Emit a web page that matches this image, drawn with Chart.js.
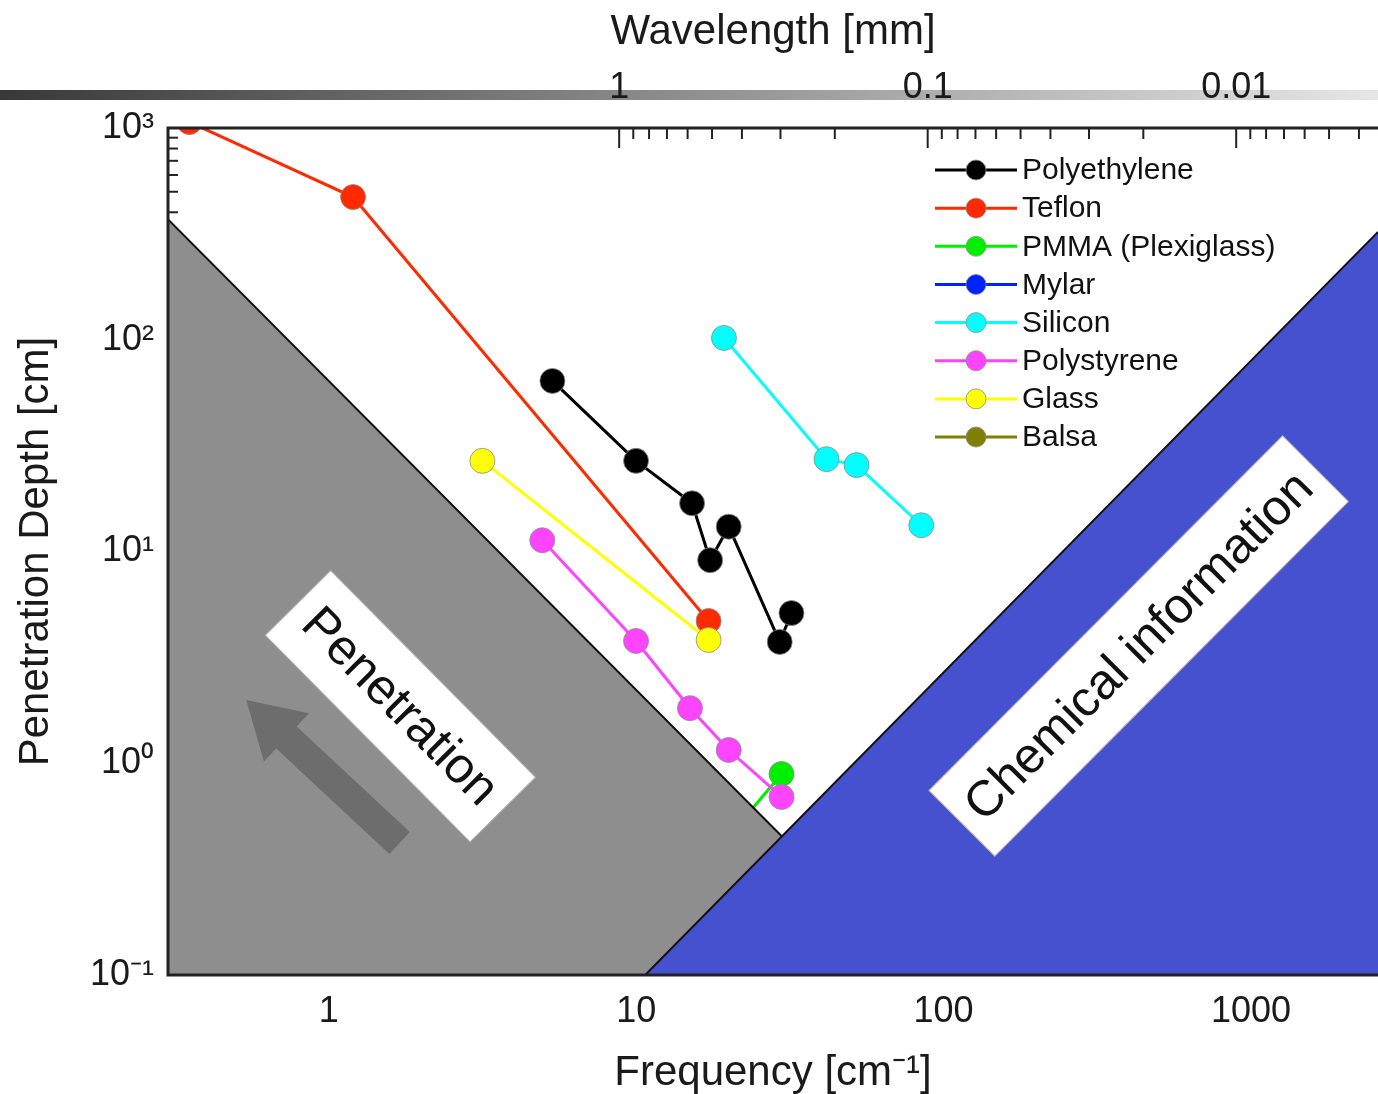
<!DOCTYPE html>
<html>
<head>
<meta charset="utf-8">
<script src="https://cdn.jsdelivr.net/npm/chart.js@4.4.1/dist/chart.umd.min.js"></script>
<style>
  html, body { margin: 0; padding: 0; background: #fff; }
  canvas { display: block; }
</style>
</head>
<body>
<canvas id="depth" width="1378" height="1094"></canvas>
<script>
// values: frequency [cm^-1] vs penetration depth [cm]
const polyethyleneFreq = [5.34, 9.99, 15.2, 17.4, 20.0, 29.3, 32.0];
const polyethyleneDepth = [63.9, 26.8, 16.9, 9.1, 13.1, 3.74, 5.12];
const teflonFreq = [0.352, 1.2, 17.2];
const teflonDepth = [1067, 472, 4.7];
const pmmaFreq = [20.5, 29.7];
const pmmaDepth = [0.47, 0.89];
const mylarFreq = [];
const mylarDepth = [];
const siliconFreq = [19.3, 41.6, 52.1, 84.6];
const siliconDepth = [102, 27.3, 25.6, 13.3];
const polystyreneFreq = [4.95, 9.99, 14.96, 20.0, 29.7];
const polystyreneDepth = [11.3, 3.78, 1.82, 1.155, 0.693];
const glassFreq = [3.16, 17.2];
const glassDepth = [26.8, 3.82];
const balsaFreq = [];
const balsaDepth = [];

// edges of the two shaded regions
const grayEdgeFreq = [0.29, 29.7];
const grayEdgeDepth = [389, 0.453];
const blueEdgeFreq = [10.7, 2588];
const blueEdgeDepth = [0.1, 323];

const seriesNames = ['Polyethylene', 'Teflon', 'PMMA (Plexiglass)', 'Mylar', 'Silicon', 'Polystyrene', 'Glass', 'Balsa'];
const seriesColors = ['#000000', '#ff2a00', '#00ee00', '#0022ff', '#00ffff', '#ff44ff', '#ffff00', '#808000'];
const seriesFreq = [polyethyleneFreq, teflonFreq, pmmaFreq, mylarFreq, siliconFreq, polystyreneFreq, glassFreq, balsaFreq];
const seriesDepth = [polyethyleneDepth, teflonDepth, pmmaDepth, mylarDepth, siliconDepth, polystyreneDepth, glassDepth, balsaDepth];

// axes
const freqMin = 0.308, freqMax = 2588;
const freqTicks = [1, 10, 100, 1000];
const freqTickLabels = ['1', '10', '100', '1000'];
const depthTicks = [0.1, 1, 10, 100, 1000];
const depthTickLabels = ['10\u207B\u00B9', '10\u2070', '10\u00B9', '10\u00B2', '10\u00B3'];
const waveMin = 0.00347, waveMax = 29.0;
const waveTicks = [1, 0.1, 0.01];
const waveTickLabels = ['1', '0.1', '0.01'];

const FONT = "'Liberation Sans', Arial, sans-serif";

function pts(xs, ys) {
    return xs.map((x, i) => ({ x: x, y: ys[i] }));
}

const datasets = seriesNames.map((name, i) => ({
    label: name,
    data: pts(seriesFreq[i], seriesDepth[i]),
    borderColor: seriesColors[i],
    backgroundColor: seriesColors[i],
    pointBackgroundColor: seriesColors[i],
    pointBorderColor: 'rgba(140,140,140,0.8)',
    pointBorderWidth: 1,
    pointRadius: 12.5,
    borderWidth: 3,
    fill: false,
    clip: 0,
    order: 20 - i
}));

datasets.push({
    label: 'penetration region',
    data: pts(grayEdgeFreq, grayEdgeDepth),
    borderColor: '#111',
    borderWidth: 2,
    backgroundColor: '#8e8e8e',
    fill: 'start',
    pointRadius: 0,
    clip: 0,
    order: 2
});
datasets.push({
    label: 'chemical region',
    data: pts(blueEdgeFreq, blueEdgeDepth),
    borderColor: '#111',
    borderWidth: 2,
    backgroundColor: '#4651d0',
    fill: 'start',
    pointRadius: 0,
    clip: 0,
    order: 1
});

function rotatedLabel(ctx, cx, cy, w, h, angle, text) {
    ctx.save();
    ctx.translate(cx, cy);
    ctx.rotate(angle);
    ctx.fillStyle = '#fff';
    ctx.fillRect(-w / 2, -h / 2, w, h);
    ctx.strokeStyle = '#b0b0b0';
    ctx.lineWidth = 1;
    ctx.strokeRect(-w / 2, -h / 2, w, h);
    ctx.fillStyle = '#111';
    ctx.font = '50px ' + FONT;
    ctx.textAlign = 'center';
    ctx.textBaseline = 'middle';
    ctx.fillText(text, 0, 2);
    ctx.restore();
}

const decorations = {
    id: 'decorations',
    beforeDraw(chart) {
        // grey band behind the wavelength labels
        const ctx = chart.ctx;
        const g = ctx.createLinearGradient(0, 0, chart.width, 0);
        g.addColorStop(0, '#383838');
        g.addColorStop(1, '#e6e6e6');
        ctx.save();
        ctx.fillStyle = g;
        ctx.fillRect(0, 90, chart.width, 10);
        ctx.restore();
    },
    beforeDatasetsDraw(chart) {
        // inner tick marks on left and top axes
        const { ctx, chartArea: a, scales } = chart;
        ctx.save();
        ctx.strokeStyle = '#222';
        ctx.lineWidth = 2;
        for (let e = -1; e < 3; e++) {
            for (let k = 1; k < 10; k++) {
                const y = scales.y.getPixelForValue(k * Math.pow(10, e));
                ctx.beginPath();
                ctx.moveTo(a.left, y);
                ctx.lineTo(a.left + (k === 1 ? 18 : 10), y);
                ctx.stroke();
            }
        }
        for (let e = -3; e < 1; e++) {
            for (let k = 1; k < 10; k++) {
                const v = k * Math.pow(10, e);
                if (v < waveMin || v > 1.0001) continue;
                const x = scales.x2.getPixelForValue(v);
                ctx.beginPath();
                ctx.moveTo(x, a.top);
                ctx.lineTo(x, a.top + (k === 1 ? 20 : 11));
                ctx.stroke();
            }
        }
        ctx.restore();
    },
    afterDatasetsDraw(chart) {
        const { ctx, chartArea: a, scales } = chart;
        const px = v => scales.x.getPixelForValue(v);
        const py = v => scales.y.getPixelForValue(v);

        // arrow in the penetration region
        const tx = px(1.70), ty = py(0.42), hx = px(0.539), hy = py(1.99);
        const len = Math.hypot(hx - tx, hy - ty);
        const ux = (hx - tx) / len, uy = (hy - ty) / len;
        const nx = -uy, ny = ux;
        const sw = 15, hw = 33, hl = 55;
        const bx = hx - ux * hl, by = hy - uy * hl;
        ctx.save();
        ctx.fillStyle = '#6d6d6d';
        ctx.beginPath();
        ctx.moveTo(tx + nx * sw, ty + ny * sw);
        ctx.lineTo(bx + nx * sw, by + ny * sw);
        ctx.lineTo(bx + nx * hw, by + ny * hw);
        ctx.lineTo(hx, hy);
        ctx.lineTo(bx - nx * hw, by - ny * hw);
        ctx.lineTo(bx - nx * sw, by - ny * sw);
        ctx.lineTo(tx - nx * sw, ty - ny * sw);
        ctx.closePath();
        ctx.fill();
        ctx.restore();

        rotatedLabel(ctx, px(1.71), py(1.86), 291, 92, 0.79, 'Penetration');
        rotatedLabel(ctx, px(431), py(3.58), 501, 93, -0.787, 'Chemical information');

        // frame
        ctx.save();
        ctx.strokeStyle = '#222';
        ctx.lineWidth = 3;
        ctx.beginPath();
        ctx.moveTo(a.right + 2, a.top);
        ctx.lineTo(a.left, a.top);
        ctx.lineTo(a.left, a.bottom);
        ctx.lineTo(a.right + 2, a.bottom);
        ctx.stroke();
        ctx.restore();

        // legend
        const lx = a.left + 767, ly0 = a.top + 42, dy = 38.15;
        ctx.save();
        ctx.font = '30px ' + FONT;
        ctx.textBaseline = 'middle';
        ctx.textAlign = 'left';
        seriesNames.forEach((name, i) => {
            const y = ly0 + i * dy;
            ctx.strokeStyle = seriesColors[i];
            ctx.lineWidth = 3;
            ctx.beginPath();
            ctx.moveTo(lx, y);
            ctx.lineTo(lx + 82, y);
            ctx.stroke();
            ctx.fillStyle = seriesColors[i];
            ctx.beginPath();
            ctx.arc(lx + 41, y, 10, 0, Math.PI * 2);
            ctx.fill();
            ctx.strokeStyle = 'rgba(140,140,140,0.8)';
            ctx.lineWidth = 1;
            ctx.stroke();
            ctx.fillStyle = '#111';
            ctx.fillText(name, lx + 87, y + 1);
        });
        ctx.restore();
    }
};

const tickFont = { family: FONT, size: 36 };
const titleFont = { family: FONT, size: 42, lineHeight: 1 };

new Chart(document.getElementById('depth').getContext('2d'), {
    type: 'line',
    data: { datasets: datasets },
    options: {
        responsive: false,
        animation: false,
        devicePixelRatio: 1,
        events: [],
        layout: { padding: 0, autoPadding: false },
        plugins: {
            legend: { display: false },
            tooltip: { enabled: false },
            filler: { drawTime: 'beforeDatasetDraw' }
        },
        scales: {
            x: {
                type: 'logarithmic',
                position: 'bottom',
                min: freqMin,
                max: freqMax,
                afterBuildTicks: s => { s.ticks = freqTicks.map(v => ({ value: v })); },
                afterFit: s => { s.height = 119; s.paddingLeft = 0; s.paddingRight = 0; },
                grid: { display: false, drawTicks: false },
                border: { display: false },
                ticks: {
                    font: tickFont, color: '#1a1a1a', padding: 15, maxRotation: 0, autoSkip: false,
                    callback: v => freqTickLabels[freqTicks.indexOf(v)]
                },
                title: {
                    display: true, text: 'Frequency [cm\u207B\u00B9]', font: titleFont, color: '#1a1a1a',
                    padding: { top: 0, bottom: 0 }
                }
            },
            x2: {
                type: 'logarithmic',
                axis: 'x',
                position: 'top',
                reverse: true,
                min: waveMin,
                max: waveMax,
                afterBuildTicks: s => { s.ticks = waveTicks.map(v => ({ value: v })); },
                afterFit: s => { s.height = 128; s.paddingLeft = 0; s.paddingRight = 0; },
                grid: { display: false, drawTicks: false },
                border: { display: false },
                ticks: {
                    font: tickFont, color: '#1a1a1a', padding: 18, maxRotation: 0, autoSkip: false,
                    callback: v => waveTickLabels[waveTicks.indexOf(v)]
                },
                title: {
                    display: true, text: 'Wavelength [mm]', font: titleFont, color: '#1a1a1a',
                    padding: { top: 11, bottom: 0 }
                }
            },
            y: {
                type: 'logarithmic',
                position: 'left',
                min: 0.1,
                max: 1000,
                afterBuildTicks: s => { s.ticks = depthTicks.map(v => ({ value: v })); },
                afterFit: s => { s.width = 168; },
                grid: { display: false, drawTicks: false },
                border: { display: false },
                ticks: {
                    font: tickFont, color: '#1a1a1a', padding: 14, autoSkip: false,
                    callback: v => depthTickLabels[depthTicks.indexOf(v)]
                },
                title: {
                    display: true, text: 'Penetration Depth [cm]', font: titleFont, color: '#1a1a1a',
                    padding: { top: 15, bottom: 0 }
                }
            }
        }
    },
    plugins: [decorations]
});
</script>
</body>
</html>
